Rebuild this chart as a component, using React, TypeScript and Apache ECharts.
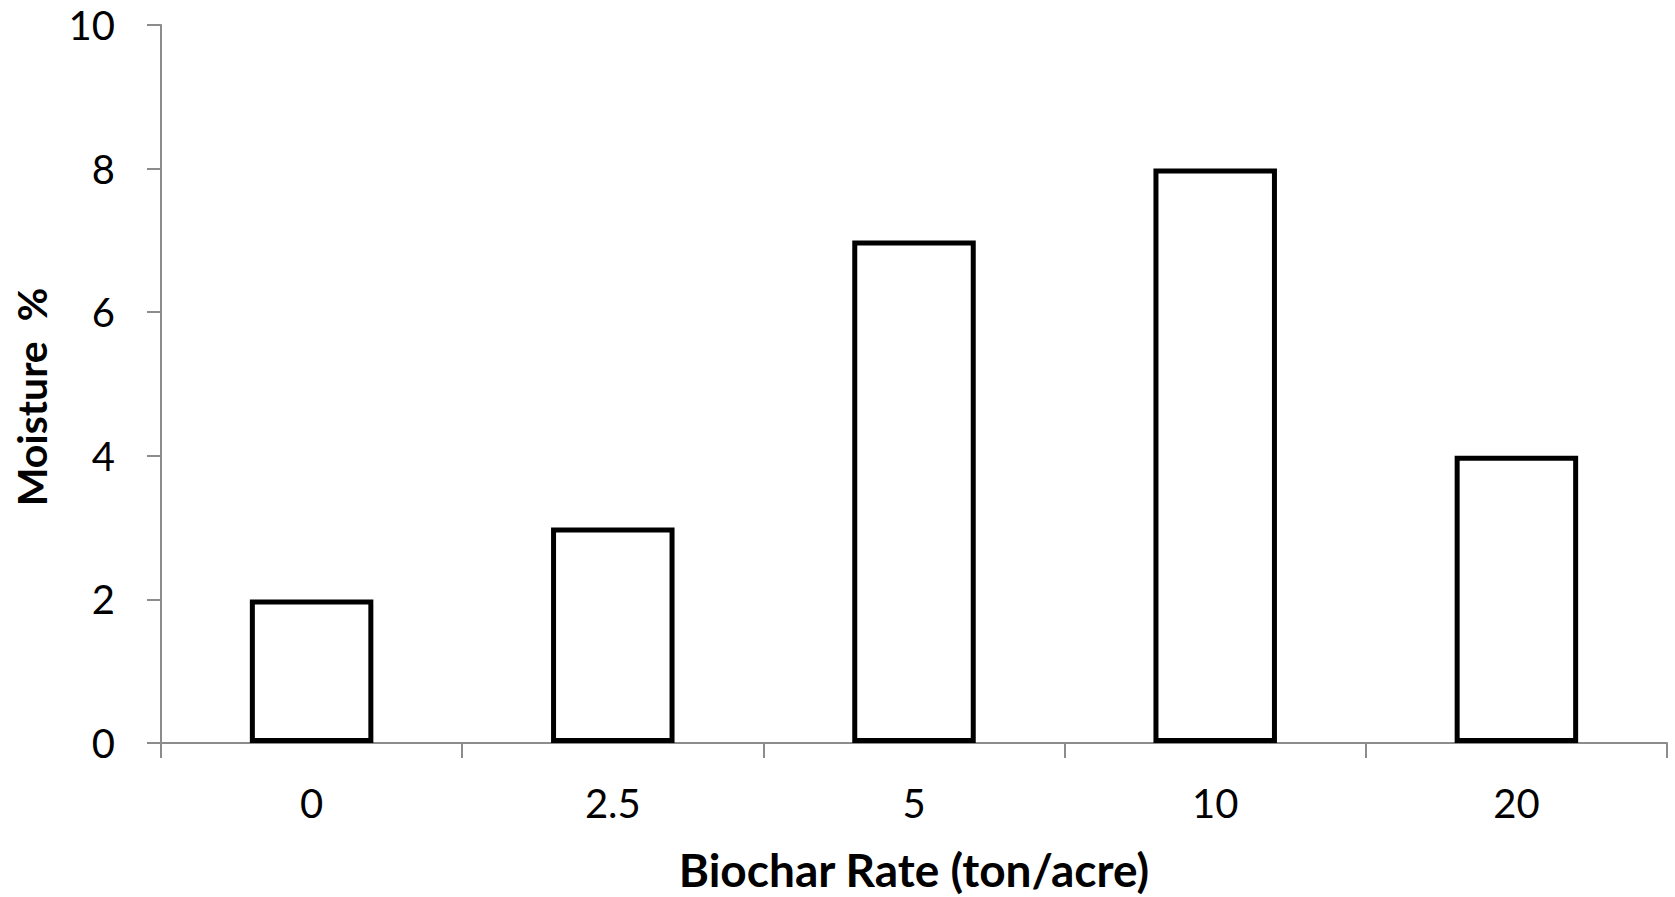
import React, { useEffect, useRef } from "react";
import * as echarts from "echarts";

const categories = ["0", "2.5", "5", "10", "20"];
const moisture = [2, 3, 7, 8, 4];
const yTicks = { min: 0, max: 10, interval: 2 };
const xTitle = "Biochar Rate (ton/acre)";
const yTitle = "Moisture  %";

export default function App() {
  const ref = useRef<HTMLDivElement>(null);
  useEffect(() => {
    document.body.style.margin = "0";
    const chart = echarts.init(ref.current!, null, { renderer: "svg" });
    const font = "Lato";
    const axisColor = "#8c8c8c";
    chart.setOption({
      animation: false,
      backgroundColor: "#ffffff",
      grid: { left: 161, right: 8, top: 25, bottom: 153, containLabel: false },
      xAxis: {
        type: "category",
        data: categories,
        axisLine: { show: true, lineStyle: { color: axisColor, width: 2 } },
        axisTick: { show: true, length: 15, alignWithLabel: false, lineStyle: { color: axisColor, width: 2 } },
        axisLabel: { color: "#000", fontFamily: font, fontSize: 40, margin: 40 },
        name: xTitle,
        nameLocation: "middle",
        nameGap: 103,
        nameTextStyle: { color: "#000", fontFamily: font, fontSize: 46, fontWeight: "bold" },
      },
      yAxis: {
        type: "value",
        min: yTicks.min,
        max: yTicks.max,
        interval: yTicks.interval,
        axisLine: { show: true, lineStyle: { color: axisColor, width: 2 } },
        axisTick: { show: true, length: 14, inside: false, lineStyle: { color: axisColor, width: 2 } },
        splitLine: { show: false },
        axisLabel: { color: "#000", fontFamily: font, fontSize: 40, margin: 46 },
        name: yTitle,
        nameLocation: "middle",
        nameRotate: 90,
        nameGap: 109,
        nameTextStyle: { color: "#000", fontFamily: font, fontSize: 41, fontWeight: "bold", padding: [0, 26, 0, 0] },
      },
      series: [
        {
          type: "bar",
          data: moisture,
          barWidth: "41%",
          itemStyle: { color: "#ffffff", borderColor: "#000000", borderWidth: 5 },
        },
      ],
    });
    return () => chart.dispose();
  }, []);
  return <div ref={ref} style={{ position: "fixed", left: 0, top: 0, width: 1675, height: 897 }} />;
}
